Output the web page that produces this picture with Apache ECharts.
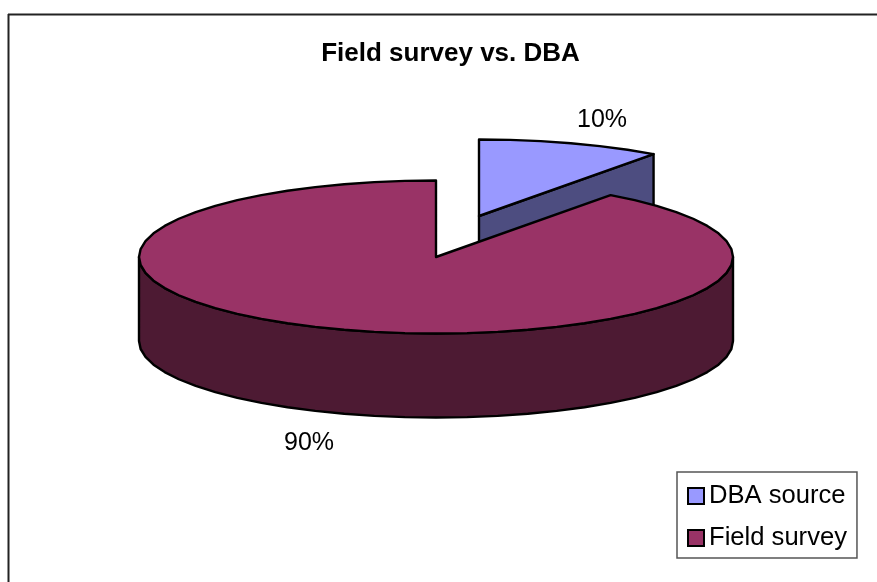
<!DOCTYPE html>
<html>
<head>
<meta charset="utf-8">
<style>html,body{margin:0;padding:0;background:#fff}#c{width:877px;height:582px}</style>
<script src="https://cdn.jsdelivr.net/npm/echarts@6/dist/echarts.min.js"></script>
</head>
<body>
<div id="c"></div>
<script>
var titleText = 'Field survey vs. DBA';
var categories = ['DBA source', 'Field survey'];
var values = [10, 90];
var topColors = ['#9999FF', '#993366'];
var sideColors = ['#4D4D80', '#4D1A33'];

var FONT = '"Liberation Sans", Arial, sans-serif';
var cx = 436, cy = 257, rx = 297, ry = 76.5, depth = 84;
var explode = [{x: 43, y: -41}, {x: 0, y: 0}];
var labelPos = [{x: 602, y: 120}, {x: 309, y: 443}];
var total = values[0] + values[1];
var STEP = 6;

function pt(theta, o, d) {
  var r = theta * Math.PI / 180;
  return [cx + o.x + rx * Math.sin(r), cy + o.y - ry * Math.cos(r) + (d || 0)];
}
function arc(a, b) {
  var out = [], t;
  for (t = a; t < b; t += STEP) out.push(t);
  out.push(b);
  return out;
}
var lineStyle = {stroke: '#000', lineWidth: 2.4, lineJoin: 'round'};

function makeRender(idx) {
  return function (params, api) {
    var v = api.value(0);
    var span = v / total * 360;
    // slices run clockwise from 12 o'clock; DBA first, Field survey after it
    var start = idx === 0 ? 0 : values[0] / total * 360;
    var end = start + span;
    var o = explode[idx];
    var apex = [cx + o.x, cy + o.y];
    var kids = [];
    function poly(points, fill) {
      kids.push({type: 'polygon', shape: {points: points},
        style: Object.assign({fill: fill}, lineStyle)});
    }
    // cut face for the slice's clockwise-first edge, when facing the viewer
    if (idx === 0) {
      var e = pt(end, o);
      poly([apex, e, [e[0], e[1] + depth], [apex[0], apex[1] + depth]], sideColors[idx]);
    }
    // outer wall: front half of the rim
    var a = Math.max(start, 90), b = Math.min(end, 270);
    if (b > a) {
      var ts = arc(a, b), wall = [];
      ts.forEach(function (t) { wall.push(pt(t, o, 0)); });
      ts.slice().reverse().forEach(function (t) { wall.push(pt(t, o, depth)); });
      poly(wall, sideColors[idx]);
    }
    // top face
    var face = [apex];
    arc(start, end).forEach(function (t) { face.push(pt(t, o, 0)); });
    poly(face, topColors[idx]);
    kids.push({type: 'text', style: {
      x: labelPos[idx].x, y: labelPos[idx].y, text: v + '%',
      fill: '#000', font: '25px ' + FONT, align: 'center', verticalAlign: 'middle'
    }});
    return {type: 'group', children: kids};
  };
}

var chart = echarts.init(document.getElementById('c'), null, {renderer: 'canvas'});
chart.setOption({
  animation: false,
  backgroundColor: '#fff',
  title: {
    text: titleText, left: 445.5, top: 36, textAlign: 'center',
    textStyle: {fontFamily: FONT, fontSize: 26, fontWeight: 'bold', color: '#000'}
  },
  legend: {
    orient: 'vertical', left: 677, top: 472,
    padding: [11, 10, 7, 10], itemGap: 16, itemWidth: 16, itemHeight: 16,
    borderColor: '#555', borderWidth: 1.5, backgroundColor: '#fff',
    icon: 'rect',
    itemStyle: {borderColor: '#000', borderWidth: 2},
    textStyle: {fontFamily: FONT, fontSize: 25.6, color: '#000'},
    data: categories
  },
  graphic: [
    {type: 'line', shape: {x1: 8.5, y1: 14, x2: 8.5, y2: 582}, style: {stroke: '#222', lineWidth: 2}},
    {type: 'line', shape: {x1: 8, y1: 14.5, x2: 877, y2: 14.5}, style: {stroke: '#222', lineWidth: 2}}
  ],
  series: categories.map(function (name, i) {
    return {
      name: name, type: 'custom', coordinateSystem: 'none',
      itemStyle: {color: topColors[i]},
      renderItem: makeRender(i),
      data: [[values[i]]]
    };
  })
});
</script>
</body>
</html>
